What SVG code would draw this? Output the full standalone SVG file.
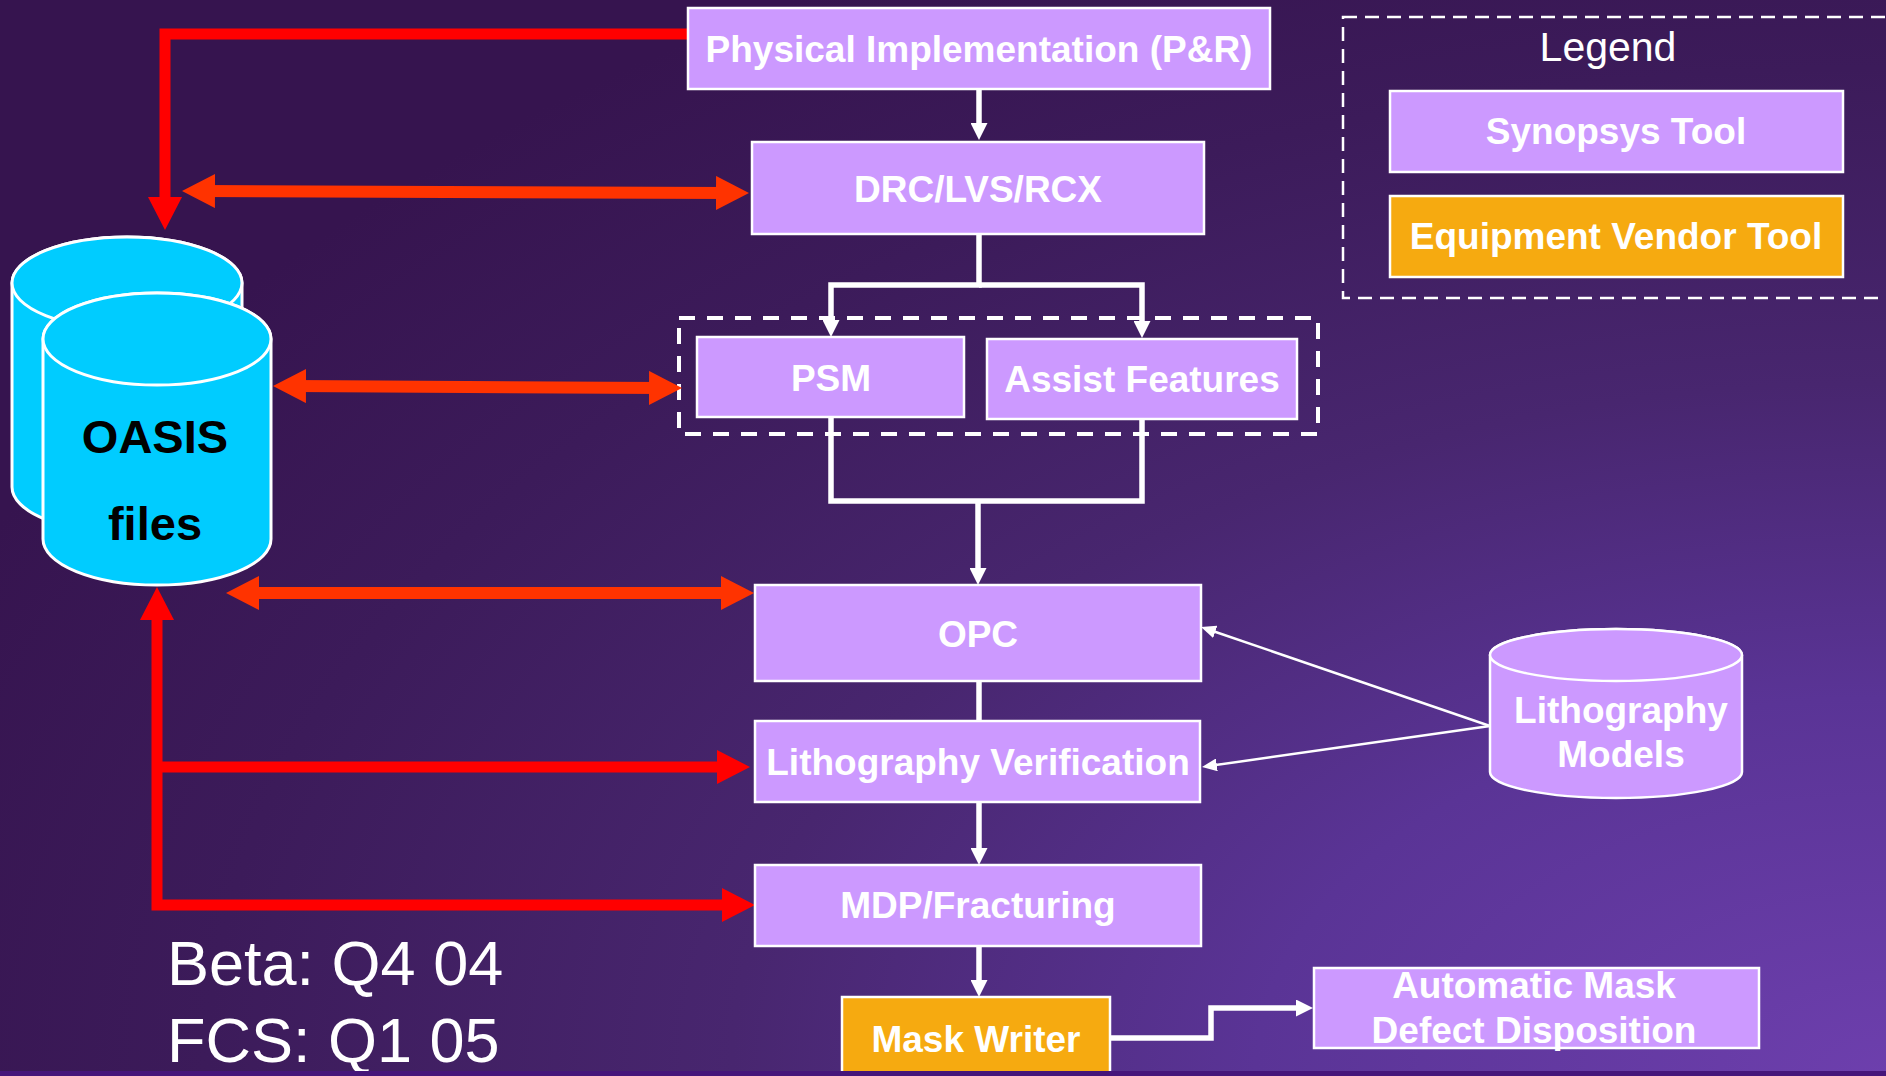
<svg xmlns="http://www.w3.org/2000/svg" width="1886" height="1076" viewBox="0 0 1886 1076">
<style>
.box{fill:#CC99FF;stroke:#FFFFFF;stroke-width:2.5}
.vendor{fill:#F6AA10;stroke:#FFFFFF;stroke-width:2.5}
.lbl{font-family:"Liberation Sans",Arial,sans-serif;font-weight:bold;font-size:37px;fill:#FFFFFF;text-anchor:middle}
.cyl{fill:#00CCFF;stroke:#FFFFFF;stroke-width:3}
.cyl2{fill:#CC99FF;stroke:#FFFFFF;stroke-width:2.5}
.wline{fill:none;stroke:#FFFFFF;stroke-width:5.5;stroke-linejoin:miter}
.thin{fill:none;stroke:#FFFFFF;stroke-width:2.5}
.red{fill:none;stroke:#FF0000;stroke-width:11;stroke-linejoin:miter}
.ored{fill:none;stroke:#FF3300;stroke-width:12}
.dash{fill:none;stroke:#FFFFFF}
.plain{font-family:"Liberation Sans",Arial,sans-serif;fill:#FFFFFF}
</style>
<defs>
<radialGradient id="bg" gradientUnits="userSpaceOnUse" cx="1886" cy="1076" r="2100" gradientTransform="translate(1886 1076) scale(1 0.6) translate(-1886 -1076)">
<stop offset="0" stop-color="#6d3fad"/>
<stop offset="0.3" stop-color="#5a3496"/>
<stop offset="0.55" stop-color="#48266f"/>
<stop offset="0.8" stop-color="#3c1b5a"/>
<stop offset="1" stop-color="#36144f"/>
</radialGradient>
<marker id="wa" markerUnits="userSpaceOnUse" markerWidth="17" markerHeight="17" refX="7" refY="8.5" orient="auto"><path d="M0,0 L17,8.5 L0,17 Z" fill="#FFFFFF"/></marker>
<marker id="ta" markerUnits="userSpaceOnUse" markerWidth="15" markerHeight="13" refX="5" refY="6.5" orient="auto"><path d="M0,0 L15,6.5 L0,13 Z" fill="#FFFFFF"/></marker>
<marker id="ra" markerUnits="userSpaceOnUse" markerWidth="33" markerHeight="34" refX="13" refY="17" orient="auto-start-reverse"><path d="M0,0 L33,17 L0,34 Z" fill="#FF0000"/></marker>
<marker id="oa" markerUnits="userSpaceOnUse" markerWidth="33" markerHeight="34" refX="13" refY="17" orient="auto-start-reverse"><path d="M0,0 L33,17 L0,34 Z" fill="#FF3300"/></marker>
</defs>
<rect x="0" y="0" width="1886" height="1076" fill="url(#bg)"/>

<g id="legend">
<rect class="dash" x="1343" y="17" width="600" height="281" stroke-width="2.5" stroke-dasharray="14 8"/>
<text class="plain" x="1608" y="61" font-size="41" text-anchor="middle">Legend</text>
<rect class="box" x="1390" y="91" width="453" height="81"/>
<text class="lbl" x="1616" y="144">Synopsys Tool</text>
<rect class="vendor" x="1390" y="196" width="453" height="81"/>
<text class="lbl" x="1616" y="249">Equipment Vendor Tool</text>
</g>

<g id="mask-group">
<rect class="dash" x="679" y="318" width="639" height="116" stroke-width="4" stroke-dasharray="16 12"/>
</g>

<g id="connectors">
<path class="red" d="M688,34 H165 V210" marker-end="url(#ra)"/>
<path class="red" d="M157,607 V905 H735" marker-start="url(#ra)" marker-end="url(#ra)"/>
<path class="red" d="M157,767 H730" marker-end="url(#ra)"/>
<path class="ored" d="M202,191 L729,193" marker-start="url(#oa)" marker-end="url(#oa)"/>
<path class="ored" d="M293,386 L662,388" marker-start="url(#oa)" marker-end="url(#oa)"/>
<path class="ored" d="M246,593 L734,593" marker-start="url(#oa)" marker-end="url(#oa)"/>
<path class="wline" d="M979,89 V130" marker-end="url(#wa)"/>
<path class="wline" d="M979,234 V285 H831 V327" marker-end="url(#wa)"/>
<path class="wline" d="M979,285 H1142 V328" marker-end="url(#wa)"/>
<path class="wline" d="M831,417 V501 H1142 V419"/>
<path class="wline" d="M978,501 V575" marker-end="url(#wa)"/>
<path class="wline" d="M979,681 V721"/>
<path class="wline" d="M979,802 V855" marker-end="url(#wa)"/>
<path class="wline" d="M979,946 V987" marker-end="url(#wa)"/>
<path class="wline" d="M1110,1038 H1211 V1008 H1303" stroke-width="6" marker-end="url(#wa)"/>
<path class="thin" d="M1490,726 L1210.5,630.2" marker-end="url(#ta)"/>
<path class="thin" d="M1490,726 L1211.9,765.6" marker-end="url(#ta)"/>
</g>

<g id="oasis">
<path class="cyl" d="M12,283 V487 A115,46 0 0 0 242,487 V283 A115,46 0 0 0 12,283 Z"/>
<ellipse class="cyl" cx="127" cy="283" rx="115" ry="46"/>
<path class="cyl" d="M43,339 V539 A114,46 0 0 0 271,539 V339 A114,46 0 0 0 43,339 Z"/>
<ellipse class="cyl" cx="157" cy="339" rx="114" ry="46"/>
<text x="155" y="453" font-family="'Liberation Sans',Arial,sans-serif" font-weight="bold" font-size="47" fill="#000000" text-anchor="middle">OASIS</text>
<text x="155" y="540" font-family="'Liberation Sans',Arial,sans-serif" font-weight="bold" font-size="47" fill="#000000" text-anchor="middle">files</text>
</g>

<g id="physical">
<rect class="box" x="688" y="8" width="582" height="81"/>
<text class="lbl" x="979" y="62">Physical Implementation (P&amp;R)</text>
</g>
<g id="drc">
<rect class="box" x="752" y="142" width="452" height="92"/>
<text class="lbl" x="978" y="202">DRC/LVS/RCX</text>
</g>
<g id="psm">
<rect class="box" x="697" y="337" width="267" height="80"/>
<text class="lbl" x="831" y="391">PSM</text>
</g>
<g id="assist">
<rect class="box" x="987" y="339" width="310" height="80"/>
<text class="lbl" x="1142" y="392">Assist Features</text>
</g>
<g id="opc">
<rect class="box" x="755" y="585" width="446" height="96"/>
<text class="lbl" x="978" y="647">OPC</text>
</g>
<g id="litho-verif">
<rect class="box" x="755" y="721" width="445" height="81"/>
<text class="lbl" x="978" y="775">Lithography Verification</text>
</g>
<g id="mdp">
<rect class="box" x="755" y="865" width="446" height="81"/>
<text class="lbl" x="978" y="918">MDP/Fracturing</text>
</g>
<g id="mask-writer">
<rect class="vendor" x="842" y="997" width="268" height="100"/>
<text class="lbl" x="976" y="1052">Mask Writer</text>
</g>
<g id="auto-mask">
<rect class="box" x="1314" y="968" width="445" height="80"/>
<text class="lbl" x="1534" y="998">Automatic Mask</text>
<text class="lbl" x="1534" y="1043">Defect Disposition</text>
</g>
<g id="litho-models">
<path class="cyl2" d="M1490,655 V772 A126,26 0 0 0 1742,772 V655 A126,26 0 0 0 1490,655 Z"/>
<ellipse class="cyl2" cx="1616" cy="655" rx="126" ry="26"/>
<text class="lbl" x="1621" y="723">Lithography</text>
<text class="lbl" x="1621" y="767">Models</text>
</g>

<g id="release">
<text class="plain" x="167" y="985" font-size="63">Beta: Q4 04</text>
<text class="plain" x="167" y="1062" font-size="63">FCS: Q1 05</text>
</g>
<rect x="0" y="1071" width="1886" height="5" fill="#45157a"/>
</svg>
